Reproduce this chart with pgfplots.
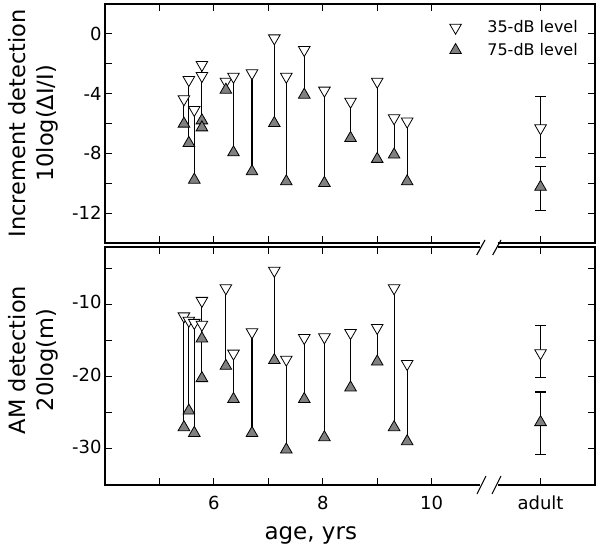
\documentclass[border=0pt]{standalone}
\usepackage{pgfplots}
\pgfplotsset{compat=1.18}
\usepackage{pgfplotstable}
\usepackage{fontspec}
\setmainfont{DejaVu Sans}

% age, 35-dB level (a), 75-dB level (b)
\pgfplotstableread{
x a b
5.45 -4.37 -6.02
5.54 -3.08 -7.31
5.64 -5.08 -9.77
5.78 -2.07 -5.80
5.78 -2.81 -6.27
6.22 -3.19 -3.75
6.36 -2.86 -7.94
6.70 -2.63 -9.21
7.11 -0.29 -5.98
7.33 -2.86 -9.88
7.66 -1.07 -4.08
8.03 -3.79 -9.99
8.51 -4.53 -6.98
9.00 -3.19 -8.38
9.31 -5.64 -8.09
9.55 -5.86 -9.88
}\toptab
\pgfplotstableread{
x y ep em
12 -6.31 2.12 1.94
}\topadulta
\pgfplotstableread{
x y ep em
12 -10.25 1.38 1.59
}\topadultb

\pgfplotstableread{
x a b
5.45 -11.6 -27.0
5.54 -12.2 -24.7
5.64 -12.5 -27.8
5.78 -9.45 -14.7
5.78 -12.76 -20.2
6.22 -7.7 -18.5
6.36 -16.76 -23.1
6.70 -13.8 -27.8
7.11 -5.27 -17.7
7.33 -17.6 -30.1
7.66 -14.6 -23.1
8.03 -14.5 -28.4
8.51 -13.9 -21.5
9.00 -13.2 -17.9
9.31 -7.7 -27.0
9.55 -18.2 -28.95
}\bottab
\pgfplotstableread{
x y ep em
12 -16.7 3.85 3.4
}\botadulta
\pgfplotstableread{
x y ep em
12 -26.3 4.2 4.5
}\botadultb

\pgfplotsset{
  panel/.style={
    scale only axis, width=490pt,
    xmin=4, xmax=13,
    xtick={5,6,7,8,9,10,12},
    tick align=inside, major tick length=7pt,
    axis line style={line width=1.2pt, black},
    every tick/.append style={line width=1.1pt, black},
    tick label style={font=\fontsize{18}{21}\selectfont},
    ylabel style={align=center, font=\fontsize{22.5}{28}\selectfont, inner sep=0pt, anchor=south},
    clip=false,
  },
  openmk/.style={only marks, mark=triangle*, mark size=6.7pt,
    mark options={fill=white, draw=black, line width=0.8pt, rotate=180}},
  filledmk/.style={only marks, mark=triangle*, mark size=6.7pt,
    mark options={fill=black!50, draw=black, line width=0.8pt}},
  connector/.style={forget plot, only marks, mark=none,
    error bars/.cd, y dir=plus, y explicit, error mark=none,
    error bar style={draw=black, line width=1.1pt}},
  sdbar/.style={forget plot, only marks, mark=none,
    error bars/.cd, y dir=both, y explicit, error mark=|,
    error bar style={draw=black, line width=1.1pt},
    error mark options={draw=black, line width=1.1pt, mark size=5.5pt}},
}

\begin{document}
\begin{tikzpicture}
\begin{axis}[panel, at={(105pt,306pt)}, anchor=south west, height=239pt,
  ymin=-14, ymax=2,
  ytick={-12,-10,...,0}, yticklabels={-12,,-8,,-4,,0},
  xticklabels={},
  ylabel={Increment detection\\10log(ΔI/I)},
  ylabel style={at={(axis description cs:-0.096,0.5)}},
  legend style={at={(axis description cs:0.9714,0.935)}, anchor=north east,
    draw=none, fill=none, inner sep=0pt, font=\fontsize{16}{19}\selectfont,
    row sep=7pt, nodes={inner xsep=3pt, inner ysep=1pt},
    /tikz/every odd column/.append style={column sep=23pt}},
  legend cell align=left,
]
\addplot[connector] table[x=x, y=b, y error expr=\thisrow{a}-\thisrow{b}] {\toptab};
\addplot[openmk] table[x=x, y=a] {\toptab};
\addlegendentry{35-dB level}
\addplot[filledmk] table[x=x, y=b] {\toptab};
\addlegendentry{75-dB level}
\addplot[sdbar] table[x=x, y=y, y error plus=ep, y error minus=em] {\topadulta};
\addplot[sdbar] table[x=x, y=y, y error plus=ep, y error minus=em] {\topadultb};
\addplot[openmk, forget plot] table[x=x, y=y] {\topadulta};
\addplot[filledmk, forget plot] table[x=x, y=y] {\topadultb};
\end{axis}

\begin{axis}[panel, at={(105pt,64pt)}, anchor=south west, height=238pt,
  ymin=-35, ymax=-2,
  ytick={-30,-25,...,-5}, yticklabels={-30,,-20,,-10,},
  xticklabels={,6,,8,,10,adult},
  xticklabel style={yshift=-6pt},
  typeset ticklabels with strut,
  ylabel={AM detection\\20log(m)},
  ylabel style={at={(axis description cs:-0.096,0.525)}},
  xlabel={age, yrs},
  xlabel style={at={(axis description cs:0.42,-0.231)}, anchor=base,
    font=\fontsize{23}{28}\selectfont},
]
\addplot[connector] table[x=x, y=b, y error expr=\thisrow{a}-\thisrow{b}] {\bottab};
\addplot[openmk] table[x=x, y=a] {\bottab};
\addplot[filledmk] table[x=x, y=b] {\bottab};
\addplot[sdbar] table[x=x, y=y, y error plus=ep, y error minus=em] {\botadulta};
\addplot[sdbar] table[x=x, y=y, y error plus=ep, y error minus=em] {\botadultb};
\addplot[openmk, forget plot] table[x=x, y=y] {\botadulta};
\addplot[filledmk, forget plot] table[x=x, y=y] {\botadultb};
\end{axis}

% axis breaks
\fill[white] (480pt,299pt) rectangle (498pt,309pt);
\fill[white] (480pt,61pt) rectangle (498pt,67pt);
\draw[line width=1.1pt] (476.7pt,294pt) -- (485pt,309pt);
\draw[line width=1.1pt] (492.7pt,294pt) -- (501pt,309pt);
\draw[line width=1.1pt] (477pt,55pt) -- (486pt,73pt);
\draw[line width=1.1pt] (492pt,55pt) -- (501pt,73pt);

\pgfresetboundingbox
\path[use as bounding box] (0,0) rectangle (600pt,549pt);
\end{tikzpicture}
\end{document}
